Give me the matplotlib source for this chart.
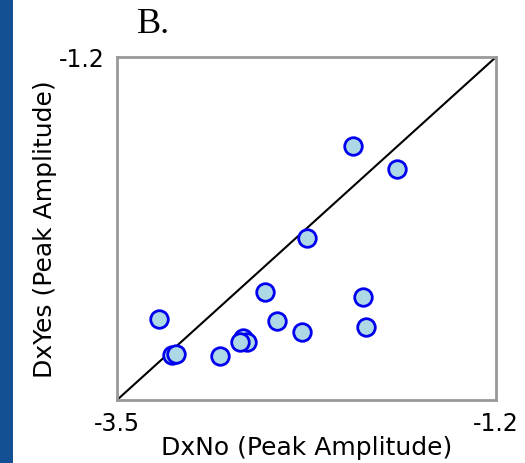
import matplotlib
matplotlib.use("Agg")
import matplotlib.pyplot as plt
from matplotlib.patches import Rectangle

dx_no = [-2.070, -1.803, -2.345, -2.600, -2.009, -3.243, -2.531, -2.379,
         -1.989, -2.733, -2.713, -2.754, -3.168, -3.144, -2.875]
dx_yes = [-1.799, -1.953, -2.413, -2.778, -2.812, -2.955, -2.973, -3.045,
          -3.013, -3.085, -3.114, -3.108, -3.197, -3.193, -3.204]
lim = [-3.5, -1.2]
x_tick_labels = ["-3.5", "-1.2"]
y_ticks = [-1.2]
y_tick_labels = ["-1.2"]

fig = plt.figure(figsize=(5.25, 4.64), dpi=100)
fig.patches.append(Rectangle((0, 0), 13 / 525, 1, transform=fig.transFigure,
                             facecolor="#134f93", edgecolor="none", zorder=0))
ax = fig.add_axes([117 / 525, 1 - 401 / 464, 379 / 525, 343 / 464])
ax.plot(lim, lim, color="black", lw=1.5, zorder=1)
ax.scatter(dx_no, dx_yes, s=160, facecolor="#add8e6", edgecolor="#0000ee",
           linewidth=2.0, zorder=2)
ax.set_xlim(lim)
ax.set_ylim(lim)
ax.set_xticks(lim)
ax.set_xticklabels(x_tick_labels)
ax.set_yticks(y_ticks)
ax.set_yticklabels(y_tick_labels)
for sp in ax.spines.values():
    sp.set_color("#999999")
    sp.set_linewidth(2)
ax.tick_params(length=0, labelsize=17, pad=8)
ax.tick_params(axis="y", pad=9)
ax.set_xlabel("DxNo (Peak Amplitude)", fontsize=18, labelpad=0)
ax.set_ylabel("DxYes (Peak Amplitude)", fontsize=18, labelpad=1)
fig.text(137 / 525, 1 - 8 / 464, "B.", family="Liberation Serif", fontsize=26,
         ha="left", va="top")
fig.savefig("out.png", dpi=100)
